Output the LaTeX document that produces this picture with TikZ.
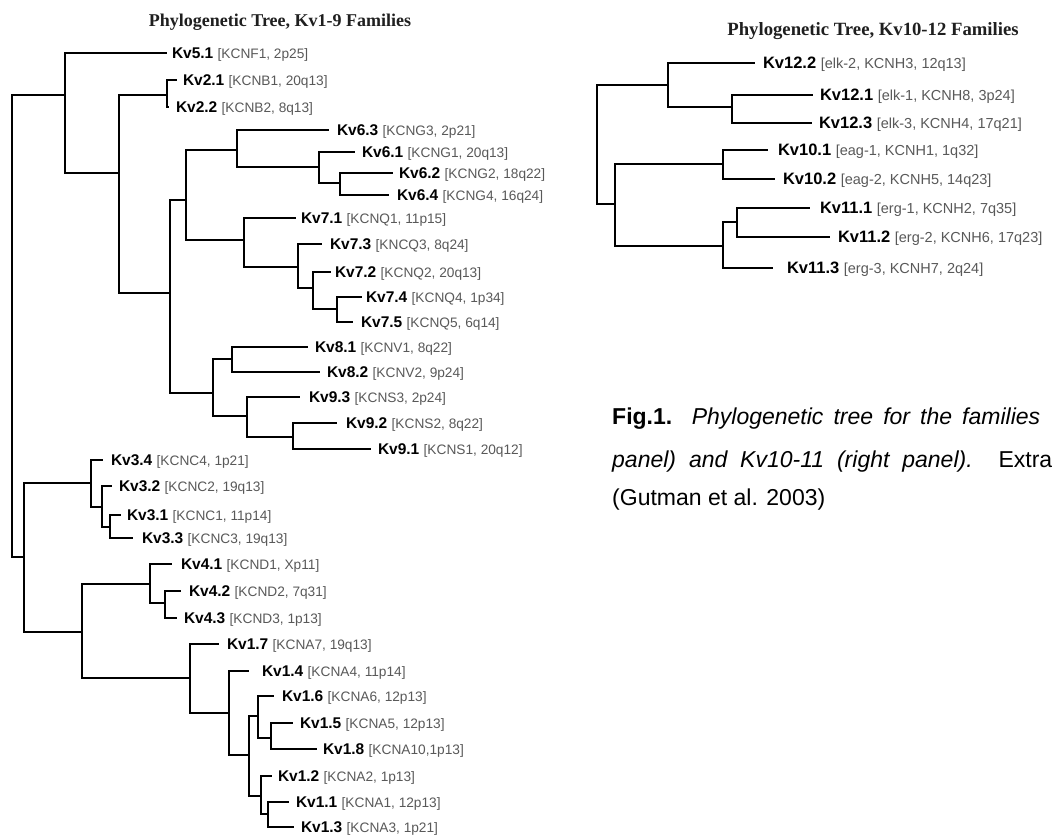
\documentclass[tikz,border=0pt]{standalone}
\usepackage{fontspec}
\setmainfont{Liberation Sans}
\newfontfamily\serifbold{Liberation Serif}
\definecolor{brk}{gray}{0.35}
\definecolor{ttl}{gray}{0.12}
\tikzset{
  branch/.style={line width=2.8pt, line join=miter, line cap=butt},
  lab/.style={anchor=base west, inner sep=0pt, outer sep=0pt},
}
\newcommand{\leafL}[6]{\coordinate (#1) at (#2,#3);
  \node[lab, font=\fontsize{15.5}{18}\selectfont, yshift=-5.6pt] (#1t) at (#4,#3) {\textbf{#5} {\fontsize{13.7}{16}\selectfont\color{brk}[#6]}};}
\newcommand{\leafR}[6]{\coordinate (#1) at (#2,#3);
  \node[lab, font=\fontsize{16.5}{19}\selectfont, yshift=-5.9pt] (#1t) at (#4,#3) {\textbf{#5} {\fontsize{14.5}{17}\selectfont\color{brk}[#6]}};}
\begin{document}
\begin{tikzpicture}[x=1pt,y=-1pt]
\useasboundingbox[fill=white] (0,0) rectangle (1052,838);
% titles
\node[anchor=base, inner sep=0pt, text=ttl, font=\serifbold\bfseries\fontsize{18}{20}\selectfont] (t1) at (280,26) {Phylogenetic Tree, Kv1-9 Families};
\node[anchor=base, inner sep=0pt, text=ttl, font=\serifbold\bfseries\fontsize{18.7}{21}\selectfont] (t2) at (873,35) {Phylogenetic Tree, Kv10-12 Families};
% ---------- left tree: internal nodes
\coordinate (root) at (12,326);
\coordinate (A) at (65,95);
\coordinate (C) at (24,557);
\coordinate (B) at (119,173);
\coordinate (D) at (167,95);
\coordinate (E) at (170,293);
\coordinate (F) at (186,200);
\coordinate (G) at (237,150);
\coordinate (H) at (319,167);
\coordinate (I) at (340,183);
\coordinate (J) at (244,240);
\coordinate (K) at (298,267);
\coordinate (L) at (313,288);
\coordinate (M) at (337,309);
\coordinate (N) at (213,393);
\coordinate (O) at (232,359);
\coordinate (P) at (247,416);
\coordinate (Q) at (293,437);
\coordinate (R) at (91,483);
\coordinate (S) at (102,507);
\coordinate (T) at (110,527);
\coordinate (U) at (82,632);
\coordinate (V) at (150,584);
\coordinate (W) at (165,603);
\coordinate (X) at (190,678);
\coordinate (Y) at (229,713);
\coordinate (Z) at (249,755);
\coordinate (Za) at (258,716);
\coordinate (Zb) at (271,738);
\coordinate (Zc) at (261,796);
\coordinate (Zd) at (268,814);
% left leaves
\leafL{k51}{167}{53}{172}{Kv5.1}{KCNF1, 2p25}
\leafL{k21}{177}{80}{183}{Kv2.1}{KCNB1, 20q13}
\leafL{k22}{169}{107}{176}{Kv2.2}{KCNB2, 8q13}
\leafL{k63}{329}{130}{337}{Kv6.3}{KCNG3, 2p21}
\leafL{k61}{355}{152}{362}{Kv6.1}{KCNG1, 20q13}
\leafL{k62}{393}{173}{399}{Kv6.2}{KCNG2, 18q22}
\leafL{k64}{389}{195}{397}{Kv6.4}{KCNG4, 16q24}
\leafL{k71}{296}{218}{301}{Kv7.1}{KCNQ1, 11p15}
\leafL{k73}{322}{244}{330}{Kv7.3}{KNCQ3, 8q24}
\leafL{k72}{331}{272}{335}{Kv7.2}{KCNQ2, 20q13}
\leafL{k74}{362}{297}{366}{Kv7.4}{KCNQ4, 1p34}
\leafL{k75}{353}{322}{361}{Kv7.5}{KCNQ5, 6q14}
\leafL{k81}{308}{347}{315}{Kv8.1}{KCNV1, 8q22}
\leafL{k82}{320}{372}{327}{Kv8.2}{KCNV2, 9p24}
\leafL{k93}{300}{397}{309}{Kv9.3}{KCNS3, 2p24}
\leafL{k92}{337}{423}{346}{Kv9.2}{KCNS2, 8q22}
\leafL{k91}{371}{449}{378}{Kv9.1}{KCNS1, 20q12}
\leafL{k34}{103}{460}{111}{Kv3.4}{KCNC4, 1p21}
\leafL{k32}{112}{486}{119}{Kv3.2}{KCNC2, 19q13}
\leafL{k31}{121}{515}{127}{Kv3.1}{KCNC1, 11p14}
\leafL{k33}{133}{538}{142}{Kv3.3}{KCNC3, 19q13}
\leafL{k41}{172}{564}{181}{Kv4.1}{KCND1, Xp11}
\leafL{k42}{181}{591}{189}{Kv4.2}{KCND2, 7q31}
\leafL{k43}{177}{618}{184}{Kv4.3}{KCND3, 1p13}
\leafL{k17}{219}{644}{227}{Kv1.7}{KCNA7, 19q13}
\leafL{k14}{249}{671}{262}{Kv1.4}{KCNA4, 11p14}
\leafL{k16}{274}{696}{282}{Kv1.6}{KCNA6, 12p13}
\leafL{k15}{293}{723}{300}{Kv1.5}{KCNA5, 12p13}
\leafL{k18}{317}{749}{323}{Kv1.8}{KCNA10,1p13}
\leafL{k12}{272}{776}{278}{Kv1.2}{KCNA2, 1p13}
\leafL{k11}{289}{802}{296}{Kv1.1}{KCNA1, 12p13}
\leafL{k13}{294}{827}{301}{Kv1.3}{KCNA3, 1p21}
% left edges
\foreach \a/\b in {root/A, root/C, A/k51, A/B, B/D, B/E, D/k21, D/k22,
  E/F, E/N, F/G, F/J, G/k63, G/H, H/k61, H/I, I/k62, I/k64,
  J/k71, J/K, K/k73, K/L, L/k72, L/M, M/k74, M/k75,
  N/O, N/P, O/k81, O/k82, P/k93, P/Q, Q/k92, Q/k91,
  C/R, C/U, R/k34, R/S, S/k32, S/T, T/k31, T/k33,
  U/V, U/X, V/k41, V/W, W/k42, W/k43, X/k17, X/Y,
  Y/k14, Y/Z, Z/Za, Z/Zc, Za/k16, Za/Zb, Zb/k15, Zb/k18,
  Zc/k12, Zc/Zd, Zd/k11, Zd/k13}
  \draw[branch] (\a) |- (\b);
% ---------- right tree
\coordinate (rroot) at (597,145);
\coordinate (X1) at (668,85);
\coordinate (X2) at (732,107);
\coordinate (X3) at (615,204);
\coordinate (X4) at (723,164);
\coordinate (X5) at (723,246);
\coordinate (X6) at (737,222);
\leafR{r122}{755}{63}{763}{Kv12.2}{elk-2, KCNH3, 12q13}
\leafR{r121}{813}{95}{820}{Kv12.1}{elk-1, KCNH8, 3p24}
\leafR{r123}{812}{123}{819}{Kv12.3}{elk-3, KCNH4, 17q21}
\leafR{r101}{768}{150}{778}{Kv10.1}{eag-1, KCNH1, 1q32}
\leafR{r102}{775}{179}{783}{Kv10.2}{eag-2, KCNH5, 14q23}
\leafR{r111}{810}{208}{820}{Kv11.1}{erg-1, KCNH2, 7q35}
\leafR{r112}{830}{237}{838}{Kv11.2}{erg-2, KCNH6, 17q23}
\leafR{r113}{773}{268}{787}{Kv11.3}{erg-3, KCNH7, 2q24}
\foreach \a/\b in {rroot/X1, rroot/X3, X1/r122, X1/X2, X2/r121, X2/r123,
  X3/X4, X3/X5, X4/r101, X4/r102, X5/X6, X5/r113, X6/r111, X6/r112}
  \draw[branch] (\a) |- (\b);
% ---------- caption
\node[anchor=base west, inner sep=0pt, font=\fontsize{23}{27}\selectfont] (cap1) at (612,424)
  {\makebox[428pt][s]{\textbf{Fig.1.} \textit{Phylogenetic tree for the families}}};
\node[anchor=base west, inner sep=0pt, font=\fontsize{23}{27}\selectfont] (cap2) at (612,467)
  {\makebox[440pt][s]{\textit{panel) and Kv10-11 (right panel).}\ \ Extra}};
\node[anchor=base west, inner sep=0pt, font=\fontsize{23}{27}\selectfont] (cap3) at (612,505)
  {(Gutman et al. 2003)};
\end{tikzpicture}
\end{document}
